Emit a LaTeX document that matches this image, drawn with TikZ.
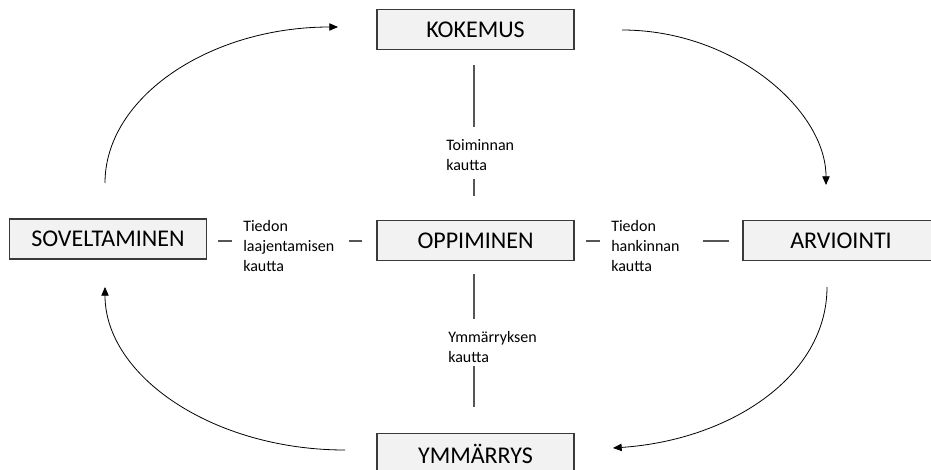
\documentclass[tikz,border=0pt]{standalone}
\usepackage{fontspec}
\setmainfont{Carlito}
\usepackage{tikz}
\usetikzlibrary{arrows.meta,positioning,calc}
\definecolor{boxfill}{HTML}{F2F2F2}
\definecolor{boxline}{HTML}{3A3A3A}
\definecolor{linkgray}{HTML}{555555}
\tikzset{
  phase/.style={draw=boxline, line width=0.8pt, fill=boxfill, minimum width=147.75pt, minimum height=30pt, inner sep=0pt, font=\fontsize{18}{20}\selectfont},
  via/.style={inner sep=0pt, align=left, anchor=west, font=\fontsize{12}{15}\selectfont},
  link/.style={draw=linkgray, line width=0.8pt},
  cyclearrow/.style={-{Triangle[length=6.5pt,width=5.5pt]}, line width=0.6pt}
}

\begin{document}
\begin{tikzpicture}[x=0.75pt,y=-0.75pt]
  \clip (0,0) rectangle (931,470);
  \fill[white] (0,0) rectangle (931,470);
  % phases of the cycle
  \node[phase] (kokemus) at (475.5,29.5) {KOKEMUS};
  \node[phase] (oppiminen) at (475.5,240.5) {OPPIMINEN};
  \node[phase] (ymmarrys) at (475.5,453.5) {YMMÄRRYS};
  \node[phase] (soveltaminen) at (108,239) {SOVELTAMINEN};
  \node[phase, minimum width=147pt] (arviointi) at (841,240.5) {ARVIOINTI};
  % ways of learning
  \node[via] (toim) at (446,155) {Toiminnan\\kautta};
  \node[via] (laaj) at (243,246) {Tiedon\\laajentamisen\\kautta};
  \node[via] (hank) at (611,246) {Tiedon\\hankinnan\\kautta};
  \node[via] (ymm) at (448,347) {Ymmärryksen\\kautta};
  \draw[link, shorten <=11.25pt, shorten >=9pt] (kokemus.south -| 474,0) -- (toim.north -| 474,0);
  \draw[link, shorten <=6pt, shorten >=18pt] (toim.south -| 474,0) -- (oppiminen.north -| 474,0);
  \draw[link, shorten <=10pt, shorten >=9pt] (oppiminen.south -| 474,0) -- (ymm.north -| 474,0);
  \draw[link, shorten <=2.25pt, shorten >=19.5pt] (ymm.south -| 474,0) -- (ymmarrys.north -| 474,0);
  \draw[link, shorten <=8.25pt, shorten >=8.25pt] (soveltaminen.east |- 0,241) -- (laaj.west |- 0,241);
  \draw[link, shorten <=11.25pt, shorten >=10.5pt] (laaj.east |- 0,241) -- (oppiminen.west |- 0,241);
  \draw[link, shorten <=8.25pt, shorten >=8.25pt] (oppiminen.east |- 0,241) -- (hank.west |- 0,241);
  \draw[link, shorten <=17.25pt, shorten >=9.75pt] (hank.east |- 0,241) -- (arviointi.west |- 0,241);
  % cycle arrows
  \coordinate (s1) at (105,183);
  \coordinate (e1) at (338,27);
  \coordinate (s2) at (622,30);
  \coordinate (e2) at (826,185);
  \coordinate (s3) at (827,287);
  \coordinate (e3) at (613,448);
  \coordinate (s4) at (345,450);
  \coordinate (e4) at (105,287);
  \draw[cyclearrow] (s1) .. controls (105,97) and (210,27) .. (e1);
  \draw[cyclearrow] (s2) .. controls (734,30) and (826,110) .. (e2);
  \draw[cyclearrow] (s3) .. controls (827,376) and (731,440) .. (e3);
  \draw[cyclearrow] (s4) .. controls (213,450) and (105,376) .. (e4);
\end{tikzpicture}
\end{document}
